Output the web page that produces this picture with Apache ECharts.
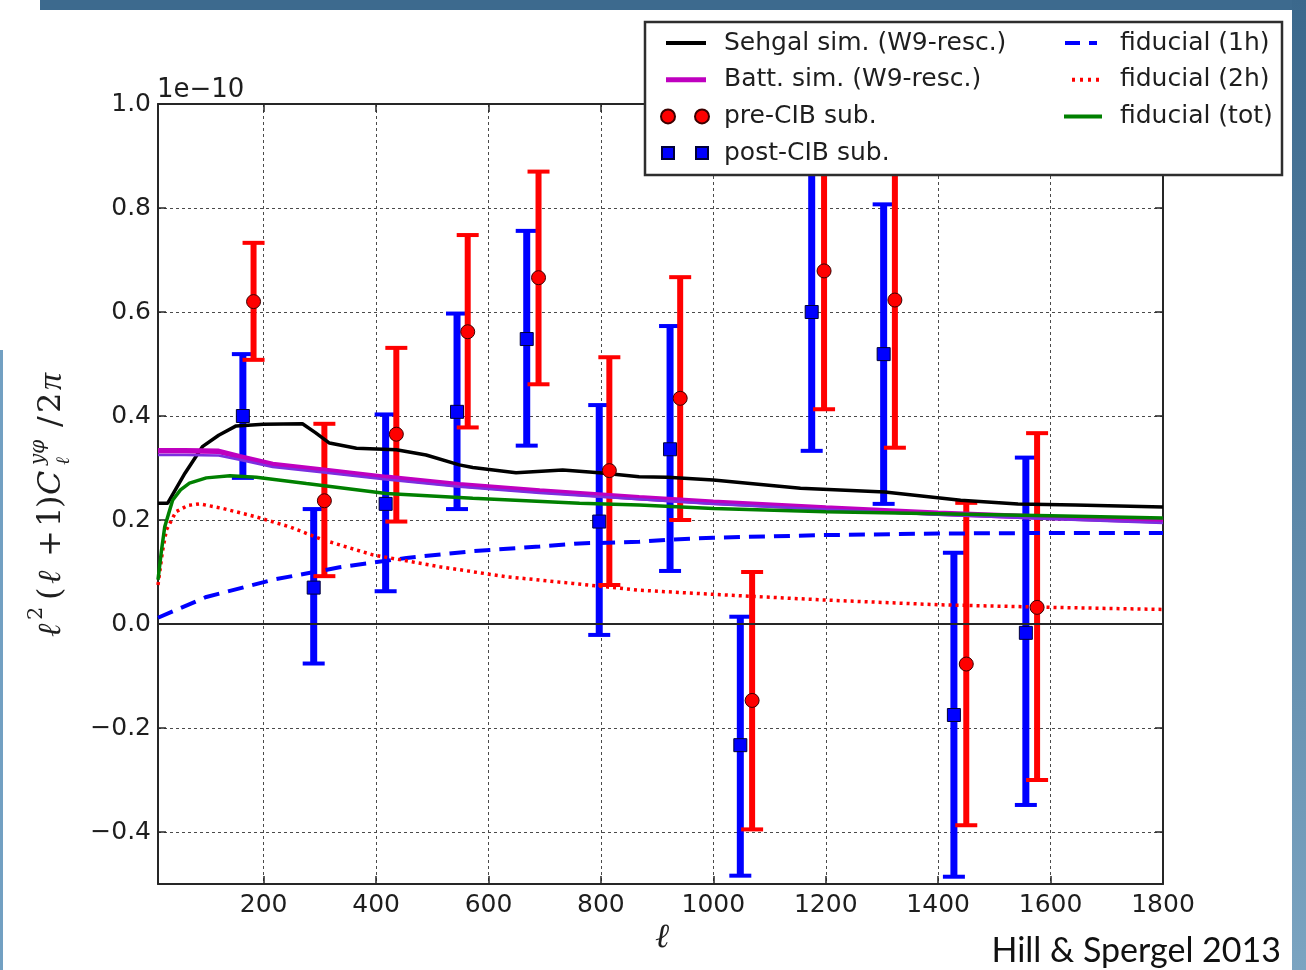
<!DOCTYPE html>
<html>
<head>
<meta charset="utf-8">
<script src="https://cdn.jsdelivr.net/npm/echarts@6/dist/echarts.min.js"></script>
<style>
  html, body { margin: 0; padding: 0; background: #ffffff; }
  #chart { width: 1306px; height: 970px; }
</style>
</head>
<body>
<div id="chart"></div>
<script>
// ---- axis ticks (y in units of 1e-10) ----
const xTicks = [200, 400, 600, 800, 1000, 1200, 1400, 1600, 1800];
const yTicks = [-0.4, -0.2, 0.0, 0.2, 0.4, 0.6, 0.8, 1.0];

// ---- binned cross-power measurements: [ell, value, lower, upper] ----
const preCIB = [
  [182, 0.620, 0.508, 0.733],
  [308, 0.237, 0.092, 0.385],
  [436, 0.365, 0.197, 0.531],
  [563, 0.562, 0.378, 0.748],
  [689, 0.666, 0.461, 0.870],
  [815, 0.295, 0.075, 0.513],
  [941, 0.434, 0.200, 0.667],
  [1069, -0.147, -0.395, 0.100],
  [1197, 0.679, 0.413, 0.945],
  [1323, 0.623, 0.339, 0.907],
  [1450, -0.077, -0.387, 0.233],
  [1576, 0.032, -0.300, 0.367]
];
const postCIB = [
  [163, 0.400, 0.281, 0.519],
  [289, 0.070, -0.076, 0.221],
  [417, 0.231, 0.063, 0.403],
  [544, 0.408, 0.221, 0.597],
  [668, 0.548, 0.343, 0.756],
  [797, 0.197, -0.021, 0.421],
  [923, 0.336, 0.102, 0.573],
  [1048, -0.233, -0.484, 0.014],
  [1175, 0.600, 0.333, 0.867],
  [1303, 0.519, 0.231, 0.807],
  [1428, -0.175, -0.486, 0.137],
  [1556, -0.017, -0.348, 0.320]
];

// ---- model curves: [ell, value] ----
const sehgalSim = [
  [12, 0.232], [29, 0.232], [60, 0.290], [91, 0.341], [120, 0.363], [151, 0.381],
  [200, 0.384], [269, 0.385], [292, 0.368], [317, 0.348], [365, 0.338], [436, 0.335],
  [489, 0.325], [548, 0.306], [572, 0.301], [649, 0.291], [732, 0.296], [797, 0.291],
  [868, 0.283], [918, 0.282], [1000, 0.277], [1155, 0.261], [1305, 0.254],
  [1440, 0.238], [1542, 0.231], [1644, 0.229], [1800, 0.225]
];
const battSim = [
  [12, 0.333], [60, 0.333], [120, 0.332], [157, 0.322], [216, 0.307], [311, 0.295],
  [418, 0.282], [548, 0.268], [691, 0.256], [868, 0.243], [1000, 0.234], [1200, 0.223],
  [1400, 0.213], [1600, 0.205], [1800, 0.198]
];
const battSimRescaled = [
  [12, 0.325], [60, 0.325], [120, 0.324], [157, 0.316], [216, 0.302], [311, 0.291],
  [418, 0.278], [548, 0.264], [691, 0.252], [868, 0.240], [1000, 0.231], [1200, 0.220],
  [1400, 0.210], [1600, 0.202], [1800, 0.194]
];
const fiducial1h = [
  [12, 0.012], [98, 0.052], [216, 0.085], [335, 0.109], [454, 0.127], [572, 0.140],
  [691, 0.149], [762, 0.155], [868, 0.158], [918, 0.162], [1000, 0.166], [1200, 0.171],
  [1400, 0.174], [1600, 0.175], [1800, 0.175]
];
const fiducial2h = [
  [12, 0.075], [20, 0.140], [27, 0.181], [44, 0.216], [65, 0.228], [86, 0.231],
  [128, 0.222], [187, 0.206], [246, 0.187], [305, 0.162], [394, 0.133], [513, 0.110],
  [631, 0.091], [750, 0.078], [868, 0.065], [1000, 0.057], [1200, 0.046], [1400, 0.037],
  [1600, 0.032], [1800, 0.028]
];
const fiducialTot = [
  [12, 0.085], [18, 0.140], [24, 0.187], [38, 0.238], [52, 0.258], [68, 0.271],
  [98, 0.281], [140, 0.285], [187, 0.282], [276, 0.270], [418, 0.251], [572, 0.242],
  [762, 0.232], [868, 0.229], [1000, 0.222], [1200, 0.216], [1400, 0.212],
  [1600, 0.208], [1800, 0.204]
];

const SANS = 'DejaVu Sans';
const SERIF = 'DejaVu Serif';
const TXT = '#1e1e1e';

const fmtY = v => (v < 0 ? '\u2212' + Math.abs(v).toFixed(1) : v.toFixed(1));
const fmtX = v => String(Math.round(v));

// legend handles (matplotlib style); the leading moves pin the icon box size
const icoSolid = 'path://M0,0M48,14M5,5h40v4h-40z';
const icoThick = 'path://M0,0M48,14M5,4.5h40v5h-40z';
const icoCircles = 'path://M0,0M48,14M0,7a7,7 0 1,0 14,0a7,7 0 1,0 -14,0z M34,7a7,7 0 1,0 14,0a7,7 0 1,0 -14,0z';
const icoSquares = 'path://M0,0M48,14M1,1h12v12h-12z M35,1h12v12h-12z';
const icoDashed = 'path://M0,0M40,14M2,5h15v4h-15z M26,5h8v4h-8z';
const icoDotted = 'path://M0,0M40,14M9,5h3v4h-3z M17,5h3v4h-3z M25,5h3v4h-3z M33,5h3v4h-3z';
const icoLine2 = 'path://M0,0M40,14M1,5h38v4h-38z';

function errorBars(name, rows, color, lw) {
  return {
    type: 'custom',
    name: name,
    z: 2,
    silent: true,
    data: rows.map(r => [r[0], r[2], r[3]]),
    encode: { x: 0, y: [1, 2] },
    renderItem: function (params, api) {
      const x = api.value(0);
      const lo = api.coord([x, api.value(1)]);
      const hi = api.coord([x, api.value(2)]);
      const cap = 11;
      return {
        type: 'group',
        children: [
          { type: 'line', shape: { x1: lo[0], y1: lo[1], x2: hi[0], y2: hi[1] },
            style: { stroke: color, lineWidth: lw } },
          { type: 'line', shape: { x1: lo[0] - cap, y1: lo[1], x2: lo[0] + cap, y2: lo[1] },
            style: { stroke: color, lineWidth: 4 } },
          { type: 'line', shape: { x1: hi[0] - cap, y1: hi[1], x2: hi[0] + cap, y2: hi[1] },
            style: { stroke: color, lineWidth: 4 } }
        ]
      };
    }
  };
}

function curve(name, data, color, width, type, z) {
  return {
    type: 'line', name: name, data: data, symbol: 'none', z: z || 3,
    silent: true,
    lineStyle: { color: color, width: width, type: type || 'solid', cap: 'butt' },
    itemStyle: { color: color }
  };
}

const gridLine = { show: true, lineStyle: { color: '#4a4a4a', width: 1, type: [3, 3] } };
const axisLineStyle = { show: true, onZero: false, lineStyle: { color: '#262626', width: 2 } };
const tickStyle = { color: '#262626', width: 1.5 };

// y-axis title: l^2 (l+1) C_l^{y phi} / 2pi, laid out along a rotated baseline
const yLabelPieces = [
  { t: '\u2113', x: 0, y: 0, s: 32, it: true },
  { t: '2', x: 17, y: -15, s: 21 },
  { t: '(', x: 37, y: 0, s: 32 },
  { t: '\u2113', x: 53, y: 0, s: 32, it: true },
  { t: '+', x: 80, y: 0, s: 32 },
  { t: '1', x: 110, y: 0, s: 32 },
  { t: ')', x: 129, y: 0, s: 32 },
  { t: 'C', x: 142, y: 0, s: 32, it: true },
  { t: '\u2113', x: 172, y: 12, s: 19, it: true },
  { t: 'y\u03c6', x: 172, y: -13, s: 20, it: true },
  { t: '/', x: 210, y: 0, s: 32 },
  { t: '2', x: 224, y: 0, s: 32 },
  { t: '\u03c0', x: 247, y: 0, s: 34, it: true, f: 'Liberation Serif' }
];

const chart = echarts.init(document.getElementById('chart'), null, { renderer: 'canvas' });

chart.setOption({
  animation: false,
  backgroundColor: '#ffffff',
  grid: { left: 158, right: 143, top: 104, bottom: 86, containLabel: false },
  xAxis: [
    {
      type: 'value', min: 12, max: 1800, position: 'bottom',
      axisLine: axisLineStyle,
      axisTick: { show: true, inside: true, length: 8, customValues: xTicks, lineStyle: tickStyle },
      axisLabel: { customValues: xTicks, margin: 9, fontFamily: SANS, fontSize: 25, color: TXT,
                   formatter: fmtX },
      splitLine: gridLine
    },
    {
      type: 'value', min: 12, max: 1800, position: 'top',
      axisLine: axisLineStyle,
      axisTick: { show: true, inside: true, length: 8, customValues: xTicks, lineStyle: tickStyle },
      axisLabel: { show: false },
      splitLine: { show: false }
    }
  ],
  yAxis: [
    {
      type: 'value', min: -0.5, max: 1.0, position: 'left',
      axisLine: axisLineStyle,
      axisTick: { show: true, inside: true, length: 8, customValues: yTicks, lineStyle: tickStyle },
      axisLabel: { customValues: yTicks, margin: 7, fontFamily: SANS, fontSize: 25, color: TXT,
                   formatter: fmtY },
      splitLine: gridLine
    },
    {
      type: 'value', min: -0.5, max: 1.0, position: 'right',
      axisLine: axisLineStyle,
      axisTick: { show: true, inside: true, length: 8, customValues: yTicks, lineStyle: tickStyle },
      axisLabel: { show: false },
      splitLine: { show: false }
    }
  ],
  legend: [
    {
      z: 20, orient: 'vertical', left: 655, top: 25,
      itemWidth: 48, itemHeight: 14, itemGap: 10.7,
      itemStyle: { opacity: 1 },
      textStyle: { fontFamily: SANS, fontSize: 25, color: TXT, lineHeight: 26, padding: [0, 0, 0, 10] },
      data: [
        { name: 'Sehgal sim. (W9-resc.)', icon: icoSolid },
        { name: 'Batt. sim. (W9-resc.)', icon: icoThick },
        { name: 'pre-CIB sub.', icon: icoCircles },
        { name: 'post-CIB sub.', icon: icoSquares }
      ],
      selectedMode: false
    },
    {
      z: 20, orient: 'vertical', left: 1058, top: 25,
      itemWidth: 40, itemHeight: 14, itemGap: 10.7,
      textStyle: { fontFamily: SANS, fontSize: 25, color: TXT, lineHeight: 26, padding: [0, 0, 0, 12] },
      data: [
        { name: 'fiducial (1h)', icon: icoDashed },
        { name: 'fiducial (2h)', icon: icoDotted },
        { name: 'fiducial (tot)', icon: icoLine2 }
      ],
      selectedMode: false
    }
  ],
  graphic: [
    // page frame
    { type: 'rect', z: 0, shape: { x: 40, y: 0, width: 1266, height: 10 }, style: { fill: '#3d6a8e' } },
    { type: 'rect', z: 0, shape: { x: 1292, y: 0, width: 14, height: 970 },
      style: { fill: new echarts.graphic.LinearGradient(0, 0, 0, 1, [
        { offset: 0, color: '#3b688c' }, { offset: 1, color: '#7ba4c1' }]) } },
    { type: 'rect', z: 0, shape: { x: 0, y: 350, width: 3, height: 620 }, style: { fill: '#72a0c2' } },
    // legend frame
    { type: 'rect', z: 10, shape: { x: 645, y: 22, width: 637, height: 153 },
      style: { fill: '#ffffff', stroke: '#2e2e2e', lineWidth: 2.5 } },
    // axis offset text
    { type: 'text', z: 10, x: 157, y: 103,
      style: { text: '1e\u221210', font: '26px "DejaVu Sans"', fill: TXT, verticalAlign: 'bottom' } },
    // x-axis title
    { type: 'text', z: 10, x: 662, y: 938,
      style: { text: '\u2113', font: 'italic 34px "DejaVu Serif"', fill: TXT, align: 'center', verticalAlign: 'middle' } },
    // y-axis title
    {
      type: 'group', x: 52, y: 637, rotation: Math.PI / 2, z: 10,
      children: yLabelPieces.map(p => ({
        type: 'text', x: p.x, y: p.y,
        style: { text: p.t, fill: TXT, align: 'left', verticalAlign: 'middle',
                 font: (p.it ? 'italic ' : '') + p.s + 'px "' + (p.f || SERIF) + '"' }
      }))
    },
    // citation
    { type: 'text', z: 10, x: 1281, y: 968,
      style: { text: 'Hill & Spergel 2013', font: '34px "Lato"', fill: '#111', align: 'right', verticalAlign: 'bottom' } }
  ],
  series: [
    {
      type: 'line', name: 'zero', data: [], symbol: 'none', z: 1, silent: true,
      markLine: { silent: true, symbol: 'none', label: { show: false },
                  lineStyle: { color: '#262626', width: 2, type: 'solid' },
                  data: [{ yAxis: 0 }] }
    },
    errorBars('post-CIB err', postCIB, '#0000ff', 7),
    errorBars('pre-CIB err', preCIB, '#ff0000', 6),
    curve('Sehgal sim. (W9-resc.)', sehgalSim, '#000000', 3.5),
    curve('Batt. sim. (W9-resc.)', battSim, '#bf00bf', 5.5),
    curve('Batt. sim. (rescaled)', battSimRescaled, '#7b2fe0', 2.5),
    curve('fiducial (1h)', fiducial1h, '#0000ff', 4, [16, 9]),
    curve('fiducial (2h)', fiducial2h, '#ff0000', 3.5, [3, 4]),
    curve('fiducial (tot)', fiducialTot, '#008000', 3.5),
    {
      type: 'scatter', name: 'post-CIB sub.', z: 4, silent: true,
      data: postCIB.map(r => [r[0], r[1]]),
      symbol: 'rect', symbolSize: 13,
      itemStyle: { color: '#0000ff', borderColor: '#00003a', borderWidth: 1, opacity: 1 }
    },
    {
      type: 'scatter', name: 'pre-CIB sub.', z: 4, silent: true,
      data: preCIB.map(r => [r[0], r[1]]),
      symbol: 'circle', symbolSize: 14,
      itemStyle: { color: '#ff0000', borderColor: '#3a0000', borderWidth: 1, opacity: 1 }
    }
  ]
});
</script>
</body>
</html>
